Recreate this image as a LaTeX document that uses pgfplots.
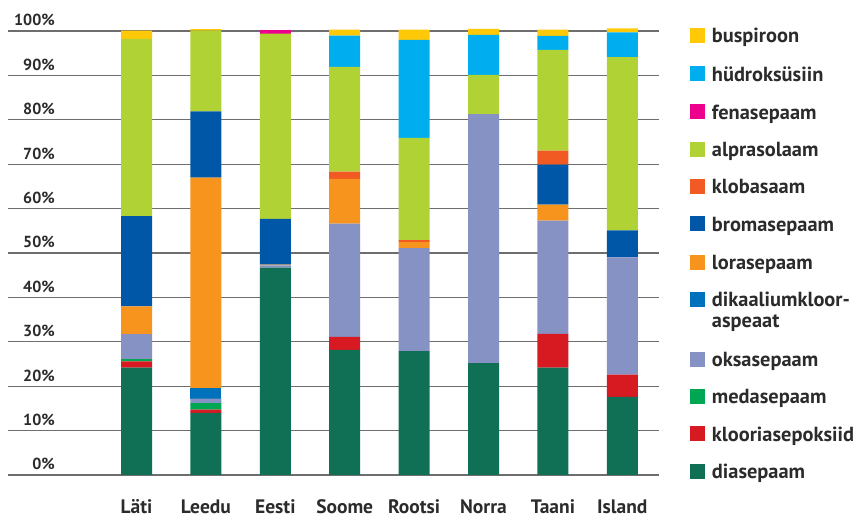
\documentclass[border=0pt]{standalone}
\usepackage{fontspec}
\setmainfont{PT Sans}
\usepackage{pgfplots}
\usepackage{pgfplotstable}
\pgfplotsset{compat=1.18}
\definecolor{cBus}{HTML}{FFC907}
\definecolor{cHyd}{HTML}{00AEEF}
\definecolor{cFen}{HTML}{EC008C}
\definecolor{cAlp}{HTML}{B1D235}
\definecolor{cKlb}{HTML}{F15A22}
\definecolor{cBro}{HTML}{0057A8}
\definecolor{cLor}{HTML}{F7941E}
\definecolor{cDik}{HTML}{0072BC}
\definecolor{cOks}{HTML}{8691C4}
\definecolor{cMed}{HTML}{00A651}
\definecolor{cKlo}{HTML}{D71921}
\definecolor{cDia}{HTML}{0F7055}
\definecolor{cTxt}{HTML}{2B2B2B}
\definecolor{cGrid}{HTML}{6E6E6E}

\pgfplotstableread{
x dia kloor meda oksa dika lora broma kloba alpra fena hydro bus
0 24.2 1.4 0.5 5.6 0   6.3  20.3 0    39.9 0   0    1.9
1 14.0 0.7 1.5 1.0 2.3 47.5 14.9 0    18.2 0   0    0.3
2 46.7 0   0   0.5 0   0.2  10.3 0    41.7 0.9 0    0
3 28.2 2.9 0   25.5 0  10.1 0    1.6  23.6 0   7.05 1.35
4 27.9 0   0   23.2 0  1.35 0    0.45 23.0 0   22.1 2.3
5 25.2 0   0   56.1 0  0    0    0    8.8  0   9.0  1.35
6 24.2 7.6 0   25.5 0  3.6  9.0  3.15 22.7 0   3.15 1.4
7 17.6 5.0 0   26.4 0  0    6.1  0    39.0 0   5.6  0.9
}\datatab

\begin{document}
\begin{tikzpicture}[x=1pt,y=1pt]
\path[use as bounding box] (0,0) rectangle (854,518);
\begin{axis}[
  at={(8pt,43pt)}, anchor=south west,
  scale only axis, width=651pt, height=444pt,
  xmin=-1.852, xmax=7.529, ymin=0, ymax=100,
  ybar stacked, bar width=31pt,
  axis line style={draw=none},
  major tick length=0pt,
  ytick={0,10,...,100},
  yticklabels={0\%,10\%,20\%,30\%,40\%,50\%,60\%,70\%,80\%,90\%,100\%},
  xtick={0,...,7},
  xticklabels={Läti,Leedu,Eesti,Soome,Rootsi,Norra,Taani,Island},
  ymajorgrids,
  grid style={cGrid, line width=1.1pt},
  tick label style={text=cTxt, inner sep=0pt},
  yticklabel style={font=\bfseries\fontsize{16}{19}\selectfont, anchor=base east, xshift=47pt, yshift=5pt},
  xticklabel style={font=\bfseries\fontsize{19.5}{22}\selectfont, anchor=base, yshift=-39pt, text depth=0pt},
  clip=false,
  every axis plot/.append style={draw=none},
]
\addplot[fill=cDia] table[x=x,y=dia]{\datatab};
\addplot[fill=cKlo] table[x=x,y=kloor]{\datatab};
\addplot[fill=cMed] table[x=x,y=meda]{\datatab};
\addplot[fill=cOks] table[x=x,y=oksa]{\datatab};
\addplot[fill=cDik] table[x=x,y=dika]{\datatab};
\addplot[fill=cLor] table[x=x,y=lora]{\datatab};
\addplot[fill=cBro] table[x=x,y=broma]{\datatab};
\addplot[fill=cKlb] table[x=x,y=kloba]{\datatab};
\addplot[fill=cAlp] table[x=x,y=alpra]{\datatab};
\addplot[fill=cFen] table[x=x,y=fena]{\datatab};
\addplot[fill=cHyd] table[x=x,y=hydro]{\datatab};
\addplot[fill=cBus] table[x=x,y=bus]{\datatab};
\end{axis}
\begin{scope}[every node/.style={anchor=base west, inner sep=0pt, text=cTxt, font=\bfseries\fontsize{20.4}{23}\selectfont}]
\foreach \nm/\col/\yc in {buspiroon/cBus/35.5, hüdroksüsiin/cHyd/74, fenasepaam/cFen/112, alprasolaam/cAlp/149.3, klobasaam/cKlb/186.7, bromasepaam/cBro/224, lorasepaam/cLor/262.3, dikaaliumkloor-/cDik/299.3, oksasepaam/cOks/359.3, medasepaam/cMed/396.7, klooriasepoksiid/cKlo/434, diasepaam/cDia/471.7}{
  \fill[\col] (690,{518-\yc-7.5}) rectangle ++(15,15);
  \node at (711.7,{518-\yc-7.2}) {\nm};
}
\node at (711.7,{518-327.3}) {aspeaat};
\end{scope}
\end{tikzpicture}
\end{document}
